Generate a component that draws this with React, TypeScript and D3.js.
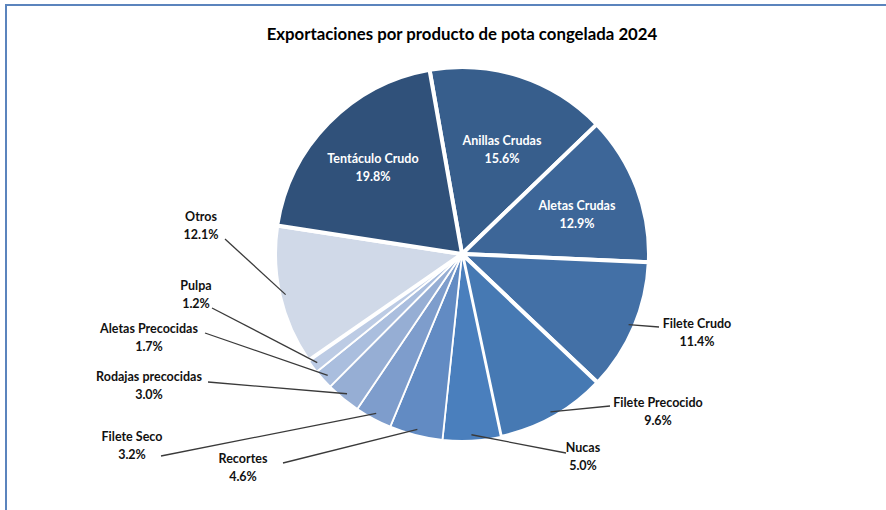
import React from "react";
import * as d3 from "d3";

const categories = [
  "Anillas Crudas",
  "Aletas Crudas",
  "Filete Crudo",
  "Filete Precocido",
  "Nucas",
  "Recortes",
  "Filete Seco",
  "Rodajas precocidas",
  "Aletas Precocidas",
  "Pulpa",
  "Otros",
  "Tentáculo Crudo",
];
const values = [15.6, 12.9, 11.4, 9.6, 5.0, 4.6, 3.2, 3.0, 1.7, 1.2, 12.1, 19.8];
const colors = [
  "#375e8c",
  "#3d6698",
  "#4370a6",
  "#4679b3",
  "#4a7fbd",
  "#628bc3",
  "#7e9dcc",
  "#96aed4",
  "#aabede",
  "#bccbe4",
  "#d0d9e8",
  "#30517a",
];
const title = "Exportaciones por producto de pota congelada 2024";

// label layout
const insideLabels: Record<string, [number, number]> = {
  "Tentáculo Crudo": [373, 159],
  "Anillas Crudas": [502, 141],
  "Aletas Crudas": [577, 206],
};
const outsideLabels: Record<string, { x: number; y: number; lx: number; ly: number }> = {
  "Filete Crudo": { x: 697, y: 324, lx: 659, ly: 327 },
  "Filete Precocido": { x: 658, y: 403, lx: 610, ly: 406 },
  Nucas: { x: 583, y: 448, lx: 566, ly: 453 },
  Recortes: { x: 243, y: 459, lx: 283, ly: 463 },
  "Filete Seco": { x: 132, y: 437, lx: 161, ly: 456 },
  "Rodajas precocidas": { x: 149, y: 377, lx: 208, ly: 382 },
  "Aletas Precocidas": { x: 149, y: 329, lx: 205, ly: 333 },
  Pulpa: { x: 196, y: 286, lx: 212, ly: 308 },
  Otros: { x: 201, y: 217, lx: 225, ly: 239 },
};
const bigSlices = new Set(["Anillas Crudas", "Aletas Crudas", "Filete Crudo", "Filete Precocido", "Tentáculo Crudo", "Otros"]);

export default function App() {
  const W = 886;
  const H = 510;
  const cx = 462;
  const cy = 254;
  const R = 187;
  const startA = (-10 * Math.PI) / 180;
  const pie = d3
    .pie<number>()
    .sort(null)
    .startAngle(startA)
    .endAngle(startA + 2 * Math.PI)(values);
  const arc = d3.arc<d3.PieArcDatum<number>>().innerRadius(0).outerRadius(R);
  const font = "Lato, 'Open Sans', sans-serif";

  return (
    <div style={{ position: "fixed", left: 0, top: 0 }}>
      <svg width={W} height={H} style={{ display: "block" }}>
        <rect x={0} y={0} width={W} height={H} fill="#fff" />
        <line x1={6} y1={5} x2={W} y2={5} stroke="#5b84bd" strokeWidth={2} />
        <line x1={6} y1={4} x2={6} y2={H} stroke="#5b84bd" strokeWidth={2} />
        <text
          x={462}
          y={40}
          textAnchor="middle"
          fontFamily={font}
          fontWeight={700}
          fontSize={16.8}
          fill="#000"
        >
          {title}
        </text>
        <g transform={`translate(${cx},${cy})`}>
          {pie.map((d, i) => (
            <path
              key={categories[i]}
              d={arc(d) || ""}
              fill={colors[i]}
              stroke="#fff"
              strokeWidth={bigSlices.has(categories[i]) ? 4 : 1.8}
              strokeLinejoin="round"
            />
          ))}
        </g>
        {pie.map((d, i) => {
          const name = categories[i];
          const pct = values[i].toFixed(1) + "%";
          const ins = insideLabels[name];
          if (ins) {
            return (
              <g key={"l" + name} fontFamily={font} fontWeight={700} fontSize={12.5} fill="#fff" textAnchor="middle">
                <text x={ins[0]} y={ins[1] + 4}>{name}</text>
                <text x={ins[0]} y={ins[1] + 22}>{pct}</text>
              </g>
            );
          }
          const o = outsideLabels[name];
          const mid = (d.startAngle + d.endAngle) / 2;
          const px = cx + (R - 6) * Math.sin(mid);
          const py = cy - (R - 6) * Math.cos(mid);
          return (
            <g key={"l" + name}>
              <polyline
                points={`${px},${py} ${o.lx},${o.ly}`}
                fill="none"
                stroke="#3a3a3a"
                strokeWidth={1.3}
              />
              <g fontFamily={font} fontWeight={700} fontSize={12.5} fill="#111" textAnchor="middle">
                <text x={o.x} y={o.y + 4}>{name}</text>
                <text x={o.x} y={o.y + 22}>{pct}</text>
              </g>
            </g>
          );
        })}
      </svg>
    </div>
  );
}
